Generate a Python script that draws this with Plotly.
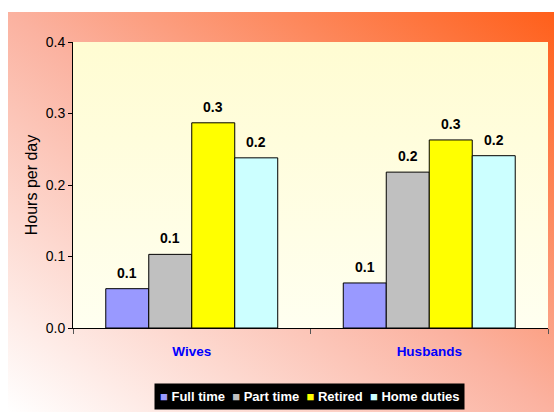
import base64
import plotly.graph_objects as go

# Hours per day by work status
groups = ["Wives", "Husbands"]
series_names = ["Full time", "Part time", "Retired", "Home duties"]
full_time = [0.055, 0.063]
part_time = [0.103, 0.218]
retired = [0.287, 0.263]
home_duties = [0.238, 0.241]
series_values = [full_time, part_time, retired, home_duties]
series_colors = ["#9999FF", "#C0C0C0", "#FFFF00", "#CCFFFF"]
y_ticks = [0.0, 0.1, 0.2, 0.3, 0.4]

FONT = "Liberation Sans, Arial, sans-serif"
W, H = 554, 412
ML, MR, MT, MB = 73, 6, 42, 84
PW, PH = W - ML - MR, H - MT - MB
BARGAP = 0.276


def px_to_paper_x(px):
    return (px - ML) / PW


def px_to_paper_y(py):
    return (H - MB - py) / PH


def svg_uri(svg):
    return "data:image/svg+xml;base64," + base64.b64encode(svg.encode()).decode()


# diagonal backdrop: pale at lower left, orange at upper right
bg_w, bg_h = W - 8, H - 12
backdrop = (
    f'<svg xmlns="http://www.w3.org/2000/svg" width="{bg_w}" height="{bg_h}" '
    f'preserveAspectRatio="none"><defs><linearGradient id="g" x1="0" y1="1" x2="1" y2="0">'
    f'<stop offset="0" stop-color="#FFFFFF"/><stop offset="0.5" stop-color="#FBB2A0"/>'
    f'<stop offset="1" stop-color="#FF5F1A"/></linearGradient></defs>'
    f'<rect width="{bg_w}" height="{bg_h}" fill="url(#g)"/></svg>'
)
# cream plot area, slightly deeper at the top
plot_fill = (
    f'<svg xmlns="http://www.w3.org/2000/svg" width="{PW}" height="{PH}" '
    f'preserveAspectRatio="none"><defs><linearGradient id="p" x1="0" y1="0" x2="0" y2="1">'
    f'<stop offset="0" stop-color="#FFFCD2"/><stop offset="1" stop-color="#FFFFF0"/>'
    f'</linearGradient></defs><rect width="{PW}" height="{PH}" fill="url(#p)"/></svg>'
)

fig = go.Figure()
for name, vals, color in zip(series_names, series_values, series_colors):
    fig.add_trace(go.Bar(
        x=groups, y=vals, name=name,
        marker=dict(color=color, line=dict(color="#000000", width=1)),
    ))

# value labels above each bar, centred on its slot within the group
n_series = len(series_names)
bar_px = PW / len(groups) * (1 - BARGAP) / n_series
value_labels = []
for i, vals in enumerate(series_values):
    shift = (i - (n_series - 1) / 2) * bar_px
    for g, v in zip(groups, vals):
        value_labels.append(dict(
            x=g, y=v, xref="x", yref="y", text=f"{v:.1f}",
            showarrow=False, xanchor="center", yanchor="bottom",
            xshift=shift, yshift=7, borderpad=0,
            font=dict(family=FONT, size=14, color="#000000", weight="bold"),
        ))

# compact legend on a black strip
legend_text = "  ".join(
    f"<span style='color:{c}'>■</span> {n}" for n, c in zip(series_names, series_colors)
)
legend_box = dict(
    text=legend_text, xref="paper", yref="paper",
    x=px_to_paper_x(309.5), y=px_to_paper_y(396),
    xanchor="center", yanchor="middle", showarrow=False,
    bgcolor="#000000", borderpad=5,
    font=dict(family=FONT, size=13, color="#FFFFFF", weight="bold"),
)

fig.update_layout(
    width=W, height=H,
    margin=dict(l=ML, r=MR, t=MT, b=MB),
    paper_bgcolor="#FFFFFF",
    plot_bgcolor="rgba(0,0,0,0)",
    barmode="group", bargap=BARGAP, bargroupgap=0,
    showlegend=False,
    font=dict(family=FONT, size=14, color="#000000"),
    images=[
        dict(source=svg_uri(backdrop), xref="paper", yref="paper",
             x=px_to_paper_x(8), y=px_to_paper_y(12),
             sizex=px_to_paper_x(W) - px_to_paper_x(8),
             sizey=px_to_paper_y(12) - px_to_paper_y(H),
             sizing="stretch", xanchor="left", yanchor="top", layer="below"),
        dict(source=svg_uri(plot_fill), xref="paper", yref="paper",
             x=0, y=1, sizex=1, sizey=1, sizing="stretch",
             xanchor="left", yanchor="top", layer="below"),
    ],
    xaxis=dict(
        showline=True, linecolor="#000000", linewidth=1,
        ticks="outside", tickson="boundaries", ticklen=5, tickcolor="#555555",
        ticklabelstandoff=11,
        tickfont=dict(family=FONT, size=13.5, color="#0000FF", weight="bold"),
        showgrid=False,
    ),
    yaxis=dict(
        range=[0, 0.4], tickvals=y_ticks, tickformat=".1f",
        showline=True, linecolor="#000000", linewidth=1,
        ticks="outside", ticklen=4, tickcolor="#000000",
        tickfont=dict(family=FONT, size=14, color="#000000"),
        showgrid=False, zeroline=False,
        title=dict(text="Hours per day", font=dict(family=FONT, size=16), standoff=4),
    ),
    annotations=value_labels + [legend_box],
)

fig.write_html("out.html")
